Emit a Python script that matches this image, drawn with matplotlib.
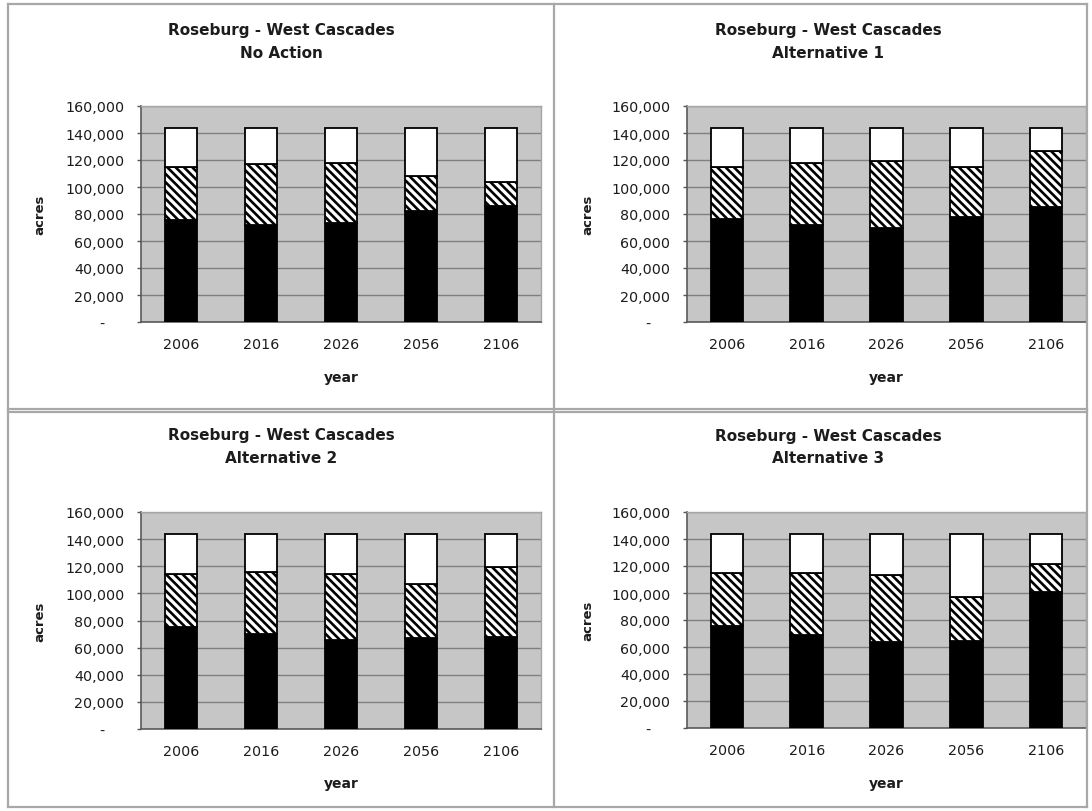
import numpy as np
import matplotlib
matplotlib.use("Agg")
import matplotlib.pyplot as plt
from matplotlib.lines import Line2D
from matplotlib.ticker import FuncFormatter
from matplotlib.transforms import ScaledTranslation

# ---- data (acres) ----
years = ["2006", "2016", "2026", "2056", "2106"]
region = "Roseburg - West Cascades"
scenarios = ["No Action", "Alternative 1", "Alternative 2", "Alternative 3"]

# solid black (bottom) segment
black_no_action = [75500, 71500, 73000, 82000, 86000]
black_alt1 = [76000, 72000, 70000, 78000, 85500]
black_alt2 = [75500, 70000, 65500, 67000, 67500]
black_alt3 = [75500, 69000, 63500, 64500, 101000]

# hatched (middle) segment
hatched_no_action = [39500, 45500, 45000, 26000, 17500]
hatched_alt1 = [39000, 45500, 49000, 37000, 41500]
hatched_alt2 = [39000, 45500, 49000, 40000, 52000]
hatched_alt3 = [39500, 46000, 49500, 32500, 20500]

# open (top) segment
open_no_action = [29000, 27000, 26000, 36000, 40500]
open_alt1 = [29000, 26500, 25000, 29000, 17000]
open_alt2 = [29500, 28500, 29500, 37000, 24500]
open_alt3 = [29000, 29000, 31000, 47000, 22500]

y_ticks = [0, 20000, 40000, 60000, 80000, 100000, 120000, 140000, 160000]

series = [
    (black_no_action, hatched_no_action, open_no_action),
    (black_alt1, hatched_alt1, open_alt1),
    (black_alt2, hatched_alt2, open_alt2),
    (black_alt3, hatched_alt3, open_alt3),
]

# ---- figure ----
W, H = 1092, 812
plt.rcParams["font.family"] = ["DejaVu Sans"]
plt.rcParams["hatch.linewidth"] = 1.9
fig = plt.figure(figsize=(W / 100, H / 100), dpi=100)
fig.patch.set_facecolor("white")

TEXT = "#1c1c1c"


def fx(px):
    return px / W


def fy(py):
    return 1 - py / H


def px_box(x0, y0, x1, y1):
    return [fx(x0), fy(y1), (x1 - x0) / W, (y1 - y0) / H]


# plot-area boxes in pixels: (left, top, right, bottom)
boxes = [
    (141, 107, 541, 323),
    (687, 107, 1086, 323),
    (141, 513, 541, 730),
    (687, 513, 1086, 729),
]
panel_centres = [281, 828, 281, 828]
title_rows = [(30, 53), (30, 53), (436, 459), (437, 459)]
ylabel_x = [40, 588, 40, 588]
xlabel_y = [378, 378, 784, 784]


def fmt(v, pos):
    return "-" if v == 0 else f"{int(v):,}"


x = np.arange(len(years))
bar_w = 0.41

for i, (box, (blk, hat, opn)) in enumerate(zip(boxes, series)):
    ax = fig.add_axes(px_box(*box))
    ax.set_facecolor("#c6c6c6")
    blk = np.array(blk)
    hat = np.array(hat)
    opn = np.array(opn)
    ax.bar(x, blk, width=bar_w, color="black", edgecolor="black", linewidth=1.3, zorder=3)
    ax.bar(x, hat, bottom=blk, width=bar_w, color="white", edgecolor="black",
           hatch="\\\\\\\\", linewidth=1.3, zorder=3)
    ax.bar(x, opn, bottom=blk + hat, width=bar_w, color="white", edgecolor="black",
           linewidth=1.3, zorder=3)

    ax.set_xlim(-0.5, len(years) - 0.5)
    ax.set_ylim(0, 160000)
    ax.set_yticks(y_ticks)
    ax.yaxis.set_major_formatter(FuncFormatter(fmt))
    ax.set_xticks(x)
    ax.set_xticklabels(years)
    ax.yaxis.grid(True, color="#808080", linewidth=1.0)
    ax.set_axisbelow(True)

    ax.tick_params(axis="y", direction="out", length=3, width=1, color="#555555",
                   pad=9, labelsize=10.3, labelcolor=TEXT)
    ax.tick_params(axis="x", length=0, pad=10.5, labelsize=10.3, labelcolor=TEXT)

    for side in ("left", "bottom"):
        ax.spines[side].set_color("#5a5a5a")
        ax.spines[side].set_linewidth(1.2)
    for side in ("top", "right"):
        ax.spines[side].set_color("#a6a6a6")
        ax.spines[side].set_linewidth(1.0)

    # accounting-style dash for zero sits further left
    zero_lbl = ax.get_yticklabels()[0]
    zero_lbl.set_transform(zero_lbl.get_transform()
                           + ScaledTranslation(-0.20, 0, fig.dpi_scale_trans))

    cx = panel_centres[i]
    r1, r2 = title_rows[i]
    fig.text(fx(cx), fy(r1), region, ha="center", va="center",
             fontsize=11, fontweight="bold", color=TEXT)
    fig.text(fx(cx), fy(r2), scenarios[i], ha="center", va="center",
             fontsize=11, fontweight="bold", color=TEXT)

    mid_y = (box[1] + box[3]) / 2
    fig.text(fx(ylabel_x[i]), fy(mid_y), "acres", rotation=90, ha="center",
             va="center", fontsize=9.5, fontweight="bold", color=TEXT)
    mid_x = (box[0] + box[2]) / 2
    fig.text(fx(mid_x), fy(xlabel_y[i]), "year", ha="center", va="center",
             fontsize=10, fontweight="bold", color=TEXT)

# chart frames
frame_col = "#a8a8a8"
frame_lines = [
    ((8, 1087), (5, 5)),
    ((8, 1087), (808, 808)),
    ((8, 8), (5, 808)),
    ((1087, 1087), (5, 808)),
    ((554, 554), (5, 808)),
    ((8, 1087), (410, 410)),
    ((8, 1087), (413, 413)),
]
for (xs, ys) in frame_lines:
    fig.add_artist(Line2D([fx(xs[0]), fx(xs[1])], [fy(ys[0]), fy(ys[1])],
                          transform=fig.transFigure, color=frame_col, linewidth=1.6))

fig.savefig("out.png", dpi=100, facecolor="white")
